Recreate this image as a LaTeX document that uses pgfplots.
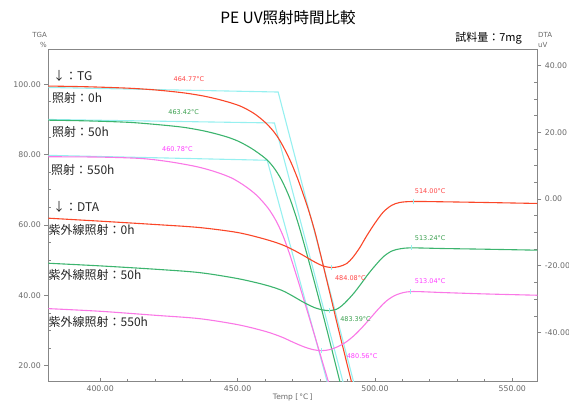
\documentclass[border=0pt]{standalone}
\usepackage{pgfplots}
\usepackage{pgfplotstable}
\pgfplotsset{compat=1.18}
\usepackage{fontspec}
\setmainfont{Noto Sans CJK JP}
\newfontfamily\tickfont{DejaVu Sans}

\definecolor{tgred}{RGB}{250,70,40}
\definecolor{tggreen}{RGB}{60,180,110}
\definecolor{tgpink}{RGB}{250,120,230}
\definecolor{tancyan}{RGB}{150,240,240}
\definecolor{lblred}{RGB}{255,70,70}
\definecolor{lblgreen}{RGB}{60,160,80}
\definecolor{lblpink}{RGB}{255,60,255}
\definecolor{axgray}{RGB}{135,135,135}
\definecolor{ticktext}{RGB}{105,105,105}

% TG curves (T in degC, TGA in %)
\pgfplotstableread{
T TG
381 99.5
395 99.3
410 98.9
420 98.4
430 97.6
438 96.6
445 95.3
451 93.8
456 91.7
460 89.2
463 86.7
465.4 84.0
468 80.2
470 76.8
472 72.9
474 68.5
476 63.8
478 58.5
480 52.3
482 45.8
484 39.3
486 32.7
488 26.3
490 20.0
492 13.7
494 7.5
}\tgA

\pgfplotstableread{
T TG
381 89.8
395 89.6
410 89.2
420 88.6
430 87.8
438 86.7
445 85.3
450 83.9
455 81.8
460 79.0
463 76.5
466 72.8
469 67.6
472 60.6
475 52.4
478 43.7
481 34.8
484 25.6
487 16.2
489 10.0
}\tgB

\pgfplotstableread{
T TG
381 79.4
400 79.3
415 78.9
425 78.0
435 76.6
442 75.1
448 73.3
453 70.9
457 68.4
461 64.9
464 61.2
466.5 57.0
469 51.6
472 44.2
475 36.5
478 28.7
481 20.8
483 15.6
485 10.4
}\tgC

% DTA curves (T in degC, DTA in uV)
\pgfplotstableread{
T DTA
381 -5.7
400 -6.6
420 -7.6
436 -8.5
450 -10.0
460 -12.0
466 -13.6
470 -15.1
474 -16.9
478 -18.8
481 -20.0
484.08 -20.5
487 -20.2
489.7 -19.3
492 -17.4
494.5 -14.5
497 -11.0
500 -7.2
503 -3.9
506 -1.9
509 -1.0
514 -0.7
525 -0.8
540 -1.0
559.4 -1.3
}\dtaA

\pgfplotstableread{
T DTA
381 -19.2
400 -20.0
420 -21.0
436 -22.0
450 -23.8
460 -25.7
466 -27.3
470 -29.0
474 -30.9
478 -32.5
481 -33.2
483.39 -33.4
486 -33.0
488 -31.9
490 -30.3
492.5 -28.0
495 -25.3
497.5 -22.5
500 -20.0
503 -17.3
506 -15.6
509 -14.9
513.24 -14.6
525 -14.8
540 -15.0
559.4 -15.3
}\dtaB

\pgfplotstableread{
T DTA
381 -32.8
400 -33.6
420 -34.8
436 -35.8
450 -37.6
460 -39.6
466 -41.3
470 -42.8
474 -44.2
477.5 -45.1
480.56 -45.4
483.5 -45.1
486.5 -44.2
489.5 -42.8
492.5 -40.8
495.5 -38.3
498.5 -35.5
501.5 -32.7
504.5 -30.3
508 -28.6
513.04 -27.7
525 -28.0
540 -28.4
559.4 -28.8
}\dtaC

\pgfplotsset{
  frame/.style={
    at={(48.3pt,21.3pt)}, anchor=south west, scale only axis,
    width=489pt, height=332.4pt,
    xmin=381.1, xmax=559.1,
    major tick length=4pt, minor tick length=3pt,
    tick style={axgray, line width=0.8pt},
    /pgf/number format/assume math mode=true,
    ticklabel style={font=\tickfont\fontsize{7.8}{9}\selectfont, text=ticktext,
      /pgf/number format/.cd, fixed, fixed zerofill, precision=2, 1000 sep={}},
  },
  tg/.style={line width=1.1pt, smooth, tension=0.5},
  tan/.style={tancyan, line width=1.1pt},
}

\begin{document}
\begin{tikzpicture}[x=1pt,y=1pt]
\useasboundingbox (0,0) rectangle (569,403);

% left axis: TGA
\begin{axis}[frame,
  ymin=15.45, ymax=109.95,
  axis line style={draw=axgray, line width=1.2pt},
  xtick={400,450,500,550}, minor x tick num=4,
  ytick={20,40,60,80,100}, minor y tick num=3,
  xtick pos=bottom, ytick pos=left,
  xtick align=inside, ytick align=outside,
  minor y tick style={xshift=3pt},
  xlabel={\tickfont\fontsize{7.5}{9}\selectfont Temp [\,°C\,]},
  xlabel style={text=ticktext, yshift=4pt},
]
% onset tangents
\addplot[tan] coordinates {(381,99.1) (464.77,97.8) (495,7.1)};
\addplot[tan] coordinates {(381,90.0) (463.42,89.0) (492,4.7)};
\addplot[tan] coordinates {(381,79.8) (460.78,78.4) (487,2.8)};
% TG curves
\addplot[tg, tgred] table[x=T, y=TG] {\tgA};
\addplot[tg, tggreen] table[x=T, y=TG] {\tgB};
\addplot[tg, tgpink] table[x=T, y=TG] {\tgC};
% onset temperatures
\begin{scope}[every node/.style={font=\tickfont\fontsize{6.5}{7}\selectfont, inner sep=0pt}]
\node[text=lblred] at (axis cs:432.3,101.6) {464.77°C};
\node[text=lblgreen] at (axis cs:430.4,92.1) {463.42°C};
\node[text=lblpink] at (axis cs:428.1,81.7) {460.78°C};
\end{scope}
\end{axis}

% right axis: DTA
\begin{axis}[frame,
  ymin=-54.7, ymax=44.9,
  axis x line=none, axis y line*=right,
  axis line style={draw=axgray, line width=1.2pt},
  ytick={-40,-20,0,20,40}, minor y tick num=3,
  ytick align=outside,
  minor y tick style={xshift=-3pt},
]
\addplot[tg, tgred] table[x=T, y=DTA] {\dtaA};
\addplot[tg, tggreen] table[x=T, y=DTA] {\dtaB};
\addplot[tg, tgpink] table[x=T, y=DTA] {\dtaC};
% peak and end-point markers
\addplot[only marks, mark=|, mark size=2.5pt, tancyan, line width=0.8pt]
  coordinates {(484.08,-20.5) (514.00,-0.7) (483.39,-33.4) (513.24,-14.6) (480.56,-45.4) (513.04,-27.7)};
\begin{scope}[every node/.style={font=\tickfont\fontsize{6.5}{7}\selectfont, inner sep=0pt, anchor=west}]
\node[text=lblred] at (axis cs:514.5,2.5) {514.00°C};
\node[text=lblgreen] at (axis cs:514.5,-11.7) {513.24°C};
\node[text=lblpink] at (axis cs:514.5,-24.5) {513.04°C};
\node[text=lblred] at (axis cs:485.4,-23.7) {484.08°C};
\node[text=lblgreen] at (axis cs:487.3,-35.9) {483.39°C};
\node[text=lblpink] at (axis cs:489.7,-46.9) {480.56°C};
\end{scope}
\end{axis}

% titles and axis captions
\node[font=\fontsize{15.5}{18}\selectfont] at (288,385) {PE UV照射時間比較};
\node[anchor=east, font=\fontsize{11}{13}\selectfont, inner sep=0pt] at (522,365) {試料量：7mg};
\begin{scope}[every node/.style={font=\tickfont\fontsize{7}{8}\selectfont, text=ticktext, inner sep=0pt}]
\node[anchor=east] at (47,368) {TGA};
\node[anchor=east] at (47,358) {\%};
\node[anchor=west] at (538,368) {DTA};
\node[anchor=west] at (538,358) {uV};
\end{scope}

% series annotations
\begin{scope}[every node/.style={anchor=west, inner sep=0pt, font=\fontsize{12}{14}\selectfont, text=black!85}]
\node at (53,327.3) {↓：TG};
\node at (52,305.3) {照射：0h};
\node at (52,271.3) {照射：50h};
\node at (51,233) {照射：550h};
\node at (53,195.7) {↓：DTA};
\node at (48.5,173) {紫外線照射：0h};
\node at (48.5,128) {紫外線照射：50h};
\node at (48.5,81.3) {紫外線照射：550h};
\end{scope}
\end{tikzpicture}
\end{document}
